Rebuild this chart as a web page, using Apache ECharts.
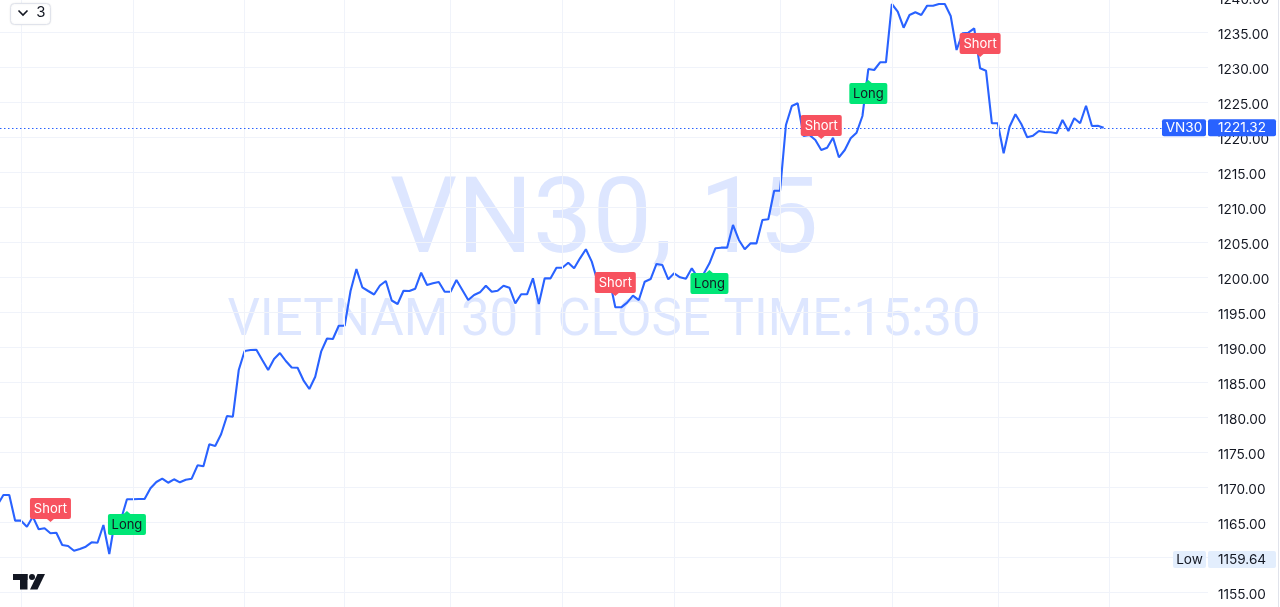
<!DOCTYPE html>
<html>
<head>
<meta charset="utf-8">
<script src="https://cdn.jsdelivr.net/npm/echarts@6/dist/echarts.min.js"></script>
<style>
html,body{margin:0;padding:0;background:#fff;}
#c{width:1280px;height:607px;}
</style>
</head>
<body>
<div id="c"></div>
<script>
// ---- DATA ----
const closes = [
1167.43, 1168.86, 1168.86, 1165.19, 1165.19, 1164.33, 1165.76, 1163.96, 1164.10, 1163.39,
1163.47, 1161.71, 1161.57, 1160.90, 1161.14, 1161.47, 1162.10, 1162.04, 1164.57, 1160.43,
1165.39, 1165.39, 1168.24, 1168.24, 1168.29, 1168.29, 1169.81, 1170.71, 1171.19, 1170.61,
1171.10, 1170.67, 1171.04, 1171.19, 1173.10, 1172.96, 1176.10, 1175.86, 1177.53, 1180.14,
1180.04, 1186.71, 1189.43, 1189.57, 1189.61, 1188.14, 1186.71, 1188.29, 1189.14, 1188.00,
1187.07, 1187.03, 1185.24, 1184.00, 1185.76, 1189.33, 1191.21, 1191.14, 1193.04, 1193.04,
1198.00, 1201.14, 1198.53, 1198.00, 1197.50, 1198.79, 1199.43, 1196.64, 1196.14, 1198.04,
1198.00, 1198.33, 1200.61, 1198.86, 1199.10, 1199.29, 1197.90, 1197.90, 1199.57, 1198.14,
1196.71, 1197.43, 1197.81, 1198.76, 1197.90, 1198.04, 1198.76, 1198.47, 1196.24, 1197.53,
1197.53, 1199.81, 1196.14, 1199.81, 1199.81, 1201.33, 1201.33, 1202.04, 1201.24, 1202.67,
1203.96, 1202.19, 1199.33, 1200.53, 1199.67, 1195.67, 1195.67, 1196.33, 1197.33, 1196.71,
1199.33, 1199.71, 1201.86, 1201.71, 1199.67, 1200.53, 1199.96, 1199.76, 1201.24, 1199.96,
1200.43, 1201.96, 1204.10, 1204.19, 1204.19, 1207.43, 1205.29, 1203.96, 1204.81, 1204.81,
1208.14, 1208.24, 1212.33, 1212.33, 1221.71, 1224.43, 1224.81, 1220.14, 1220.29, 1219.57,
1218.14, 1218.47, 1219.90, 1217.10, 1218.14, 1219.81, 1220.61, 1223.00, 1229.71, 1229.57,
1230.67, 1230.67, 1239.00, 1237.90, 1235.61, 1237.43, 1237.81, 1237.43, 1238.76, 1238.76,
1239.00, 1239.00, 1237.29, 1232.43, 1234.81, 1234.90, 1235.53, 1229.81, 1229.47, 1221.96,
1221.96, 1217.67, 1221.47, 1223.24, 1221.86, 1219.96, 1220.19, 1220.86, 1220.71, 1220.67,
1220.53, 1222.43, 1220.86, 1222.67, 1221.96, 1224.47, 1221.57, 1221.61, 1221.32
];
const dayStartIdx = [4, 23, 42, 59, 77, 96, 115, 133, 152, 170, 189];
const signalIdx = [9, 22, 105, 121, 140, 148, 167];
const signalType = ['Short', 'Long', 'Short', 'Long', 'Short', 'Long', 'Short'];
const signalPrice = [1165.0, 1166.57, 1197.29, 1201.0, 1219.71, 1228.14, 1231.43];
const symbolName = 'VN30';
const lastPrice = 1221.32;
const lowPrice = 1159.64;
const yTickMin = 1150, yTickMax = 1240, yTickStep = 5;
const watermark1 = 'VN30, 15';
const watermark2 = 'VIETNAM 30 I CLOSE TIME:15:30';
const intervalBtn = '3';

// ---- CHART ----
const FONT = 'Inter, "Noto Sans", Roboto, sans-serif';
const WFONT = 'Roboto, Inter, sans-serif';
const BLUE = '#2962FF';
const GRID = '#F0F3FA';
const TXT = '#131722';
const chart = echarts.init(document.getElementById('c'), null, {renderer: 'canvas'});

const lineData = closes.map((v, i) => [i, v]);
const sigData = signalIdx.map((i, k) => [i, signalPrice[k]]);

const option = {
  animation: false,
  backgroundColor: '#ffffff',
  grid: {left: 0, right: 72, top: -3, bottom: -20, containLabel: false, outerBoundsMode: 'none'},
  xAxis: {
    type: 'value', min: 0.425, max: 205.73,
    axisLine: {show: false}, axisTick: {show: false}, axisLabel: {show: false}, splitLine: {show: false}
  },
  yAxis: {
    type: 'value', position: 'right', min: yTickMin, max: yTickMax, interval: yTickStep,
    axisLine: {show: false}, axisTick: {show: false}, z: 0,
    axisLabel: {
      formatter: v => '{a|' + v.toFixed(2) + '}',
      rich: {a: {color: TXT, fontSize: 13.6, fontFamily: FONT, padding: [5, 0, 0, 0]}},
      color: TXT, fontSize: 13.6, fontFamily: FONT,
      margin: 10, align: 'left', showMinLabel: true, showMaxLabel: true, hideOverlap: false
    },
    splitLine: {show: true, lineStyle: {color: GRID, width: 1}}
  },
  series: [
    {
      type: 'line', data: [], z: 1, silent: true,
      markLine: {
        silent: true, symbol: ['none', 'none'], label: {show: false},
        lineStyle: {color: GRID, width: 1, type: 'solid'},
        data: dayStartIdx.map(i => ({xAxis: i}))
      }
    },
    {
      type: 'line', data: lineData, showSymbol: false, symbol: 'none', z: 3,
      lineStyle: {color: BLUE, width: 2.1}, silent: true,
      markLine: {
        silent: true, symbol: ['none', 'none'], label: {show: false},
        lineStyle: {color: BLUE, width: 1, type: [1.5, 2.5]},
        data: [{yAxis: lastPrice}]
      }
    },
    {
      type: 'custom', data: sigData, z: 5, clip: false, silent: true,
      renderItem: (params, api) => {
        const p = api.coord([api.value(0), api.value(1)]);
        const t = signalType[params.dataIndex];
        const isShort = t === 'Short';
        const w = isShort ? 41 : 38, h = 21, tip = 3;
        const bx = p[0] - w / 2;
        const by = isShort ? p[1] - tip - h : p[1] + tip;
        const fill = isShort ? '#F7525F' : '#00E676';
        const tri = isShort
          ? [[p[0] - 4, p[1] - tip - 0.5], [p[0] + 4, p[1] - tip - 0.5], [p[0], p[1]]]
          : [[p[0] - 4, p[1] + tip + 0.5], [p[0] + 4, p[1] + tip + 0.5], [p[0], p[1]]];
        return {
          type: 'group',
          children: [
            {type: 'rect', shape: {x: bx, y: by, width: w, height: h, r: 2}, style: {fill: fill}},
            {type: 'polygon', shape: {points: tri}, style: {fill: fill}},
            {type: 'text', style: {
              x: p[0], y: by + h / 2 + 0.5, text: t, align: 'center', verticalAlign: 'middle',
              fill: isShort ? '#ffffff' : TXT, font: '13px ' + FONT
            }}
          ]
        };
      }
    }
  ],
  graphic: [
    {type: 'text', z: 0, silent: true, style: {
      x: 604, y: 225, text: watermark1, align: 'center', verticalAlign: 'middle',
      fill: 'rgba(41,98,255,0.16)', font: '106px ' + WFONT
    }},
    {type: 'text', z: 0, silent: true, style: {
      x: 604, y: 322, text: watermark2, align: 'center', verticalAlign: 'middle',
      fill: 'rgba(41,98,255,0.16)', font: '51px ' + WFONT
    }}
  ]
};
chart.setOption(option);

// axis-side labels placed via the y scale
const yLast = chart.convertToPixel({yAxisIndex: 0}, lastPrice);
const yLow = chart.convertToPixel({yAxisIndex: 0}, lowPrice);
const ZT = 100;
function tag(x, y, w, text, bg, fg) {
  return {
    type: 'group', z: ZT, zlevel: 1, silent: true, children: [
      {type: 'rect', z: ZT, zlevel: 1, shape: {x: x, y: y - 8.5, width: w, height: 17, r: 2}, style: {fill: bg}},
      {type: 'text', z: ZT + 1, zlevel: 1, style: {x: x + w / 2, y: y + 0.5, text: text, align: 'center', verticalAlign: 'middle', fill: fg, font: '13.6px ' + FONT}}
    ]
  };
}
const extra = [
  tag(1162, yLast, 44, symbolName, BLUE, '#ffffff'),
  tag(1208, yLast, 68, lastPrice.toFixed(2), BLUE, '#ffffff'),
  tag(1173, yLow, 33, 'Low', '#E3EEFD', TXT),
  tag(1208, yLow, 68, lowPrice.toFixed(2), '#E3EEFD', TXT),
  // right border
  {type: 'line', z: ZT, zlevel: 1, silent: true, shape: {x1: 1278.5, y1: 0, x2: 1278.5, y2: 607}, style: {stroke: '#E0E3EB', lineWidth: 1}},
  // interval button
  {type: 'rect', z: ZT, zlevel: 1, silent: true, shape: {x: 10.5, y: 3.5, width: 40, height: 21, r: 4}, style: {fill: '#ffffff', stroke: '#E0E3EB', lineWidth: 1, shadowBlur: 2, shadowColor: 'rgba(0,0,0,0.08)'}},
  {type: 'polyline', z: ZT + 1, zlevel: 1, silent: true, shape: {points: [[18.5, 10.5], [23, 15], [27.5, 10.5]]}, style: {stroke: TXT, lineWidth: 1.6, fill: null}},
  {type: 'text', z: ZT + 1, zlevel: 1, silent: true, style: {x: 41, y: 12.5, text: intervalBtn, align: 'center', verticalAlign: 'middle', fill: TXT, font: '15px ' + FONT}},
  // TradingView logo
  {type: 'rect', z: ZT, zlevel: 1, silent: true, shape: {x: 13, y: 574, width: 14.5, height: 6}, style: {fill: TXT}},
  {type: 'rect', z: ZT, zlevel: 1, silent: true, shape: {x: 20, y: 574, width: 7.5, height: 15.5}, style: {fill: TXT}},
  {type: 'circle', z: ZT, zlevel: 1, silent: true, shape: {cx: 32, cy: 577, r: 3}, style: {fill: TXT}},
  {type: 'polygon', z: ZT, zlevel: 1, silent: true, shape: {points: [[37.5, 574], [45, 574], [37.5, 589.5], [30, 589.5]]}, style: {fill: TXT}}
];
chart.setOption({graphic: option.graphic.concat(extra)});
</script>
</body>
</html>
